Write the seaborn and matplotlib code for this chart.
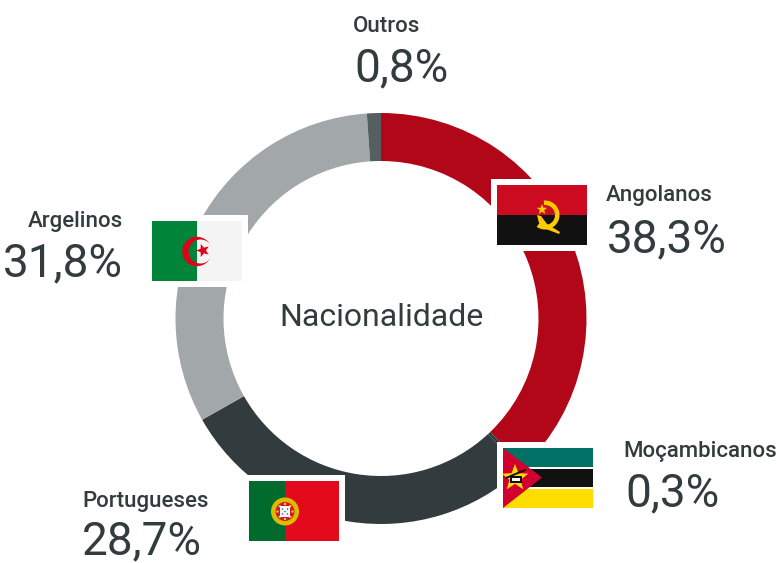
import math
import matplotlib
matplotlib.use("Agg")
import matplotlib.pyplot as plt
from matplotlib.patches import Rectangle, Polygon, Circle, Wedge
import seaborn as sns

nacionalidades = ["Angolanos", "Moçambicanos", "Portugueses", "Argelinos", "Outros"]
rotulos = ["38,3%", "0,3%", "28,7%", "31,8%", "0,8%"]
fatias = [37.8, 0.3, 28.7, 32.1, 1.1]
cores = ["#B20619", "#323B3D", "#323B3D", "#A2A7A9", "#555F61"]

sns.set_theme(style="white")
plt.rcParams["font.family"] = ["Roboto", "DejaVu Sans"]

W, H = 777, 563
TXT = "#323B3D"

fig = plt.figure(figsize=(W / 100, H / 100), dpi=100)
ax = fig.add_axes([0, 0, 1, 1])


def Y(y):
    return H - y


# Anel
ax.pie(fatias, colors=sns.color_palette(cores), startangle=90, counterclock=False,
       radius=205.5, center=(381, Y(318.5)), frame=True,
       wedgeprops={"width": 48, "linewidth": 0})
ax.set_xlim(0, W)
ax.set_ylim(0, H)
ax.set_aspect("equal")
ax.axis("off")


def retang(x0, y0, x1, y1, cor, z=3):
    ax.add_patch(Rectangle((x0, Y(y1)), x1 - x0, y1 - y0, fc=cor, ec="none", zorder=z))


def estrela(cx, cy, r, cor, z=5, rot=90):
    pts = []
    for i in range(10):
        rr = r if i % 2 == 0 else r * 0.42
        a = math.radians(rot) + i * math.pi / 5
        pts.append((cx + rr * math.cos(a), Y(cy) + rr * math.sin(a)))
    ax.add_patch(Polygon(pts, fc=cor, ec="none", zorder=z))


def disco(cx, cy, r, cor, z=5):
    ax.add_patch(Circle((cx, Y(cy)), r, fc=cor, ec="none", zorder=z))


# Bandeira de Angola
retang(491, 179, 593, 251, "white", 2)
retang(497, 185, 587, 215, "#CC0A20")
retang(497, 215, 587, 245, "#111111")
ax.add_patch(Wedge((545, Y(215)), 14.5, -125, 95, width=4.5, fc="#FFCB00", ec="none", zorder=4))
ax.add_patch(Polygon([(537, Y(215)), (541, Y(216)), (547, Y(224)), (560, Y(232)), (559, Y(234)),
                      (546, Y(229)), (539, Y(223))], fc="#FFCB00", ec="none", zorder=4))
estrela(542, 209.5, 5.5, "#FFCB00")

# Bandeira de Moçambique
retang(497, 442, 599, 514, "white", 2)
retang(503, 448, 593, 467, "#007164")
retang(503, 469, 593, 487, "#111111")
retang(503, 489, 593, 508, "#FFDD00")
ax.add_patch(Polygon([(503, Y(448)), (542, Y(477.5)), (503, Y(508))], fc="#D2002F", ec="none", zorder=4))
estrela(515, 478, 14, "#FFD900")
retang(510, 476, 522, 483, "#111111", 6)
retang(512, 478, 520, 481, "white", 7)
ax.plot([506, 525], [Y(478), Y(470)], color="#111111", lw=1.4, zorder=6)

# Bandeira de Portugal
retang(243, 475, 345, 547, "white", 2)
retang(249, 481, 285, 541, "#006B2D")
retang(285, 481, 339, 541, "#E30A1C")
disco(285, 511.5, 14, "#D9BE00", 4)
disco(285, 511.5, 9.5, "#D3172E", 5)
for i in range(8):
    a = i * math.pi / 4
    disco(285 + 7.5 * math.cos(a), 511.5 + 7.5 * math.sin(a), 1.2, "#F2D21A", 6)
retang(280, 506, 290, 517, "white", 6)
for dx, dy in [(0, 0), (-2.5, -2.5), (2.5, -2.5), (-2.5, 2.5), (2.5, 2.5)]:
    disco(285 + dx, 511.5 + dy, 0.8, "#2C5AA0", 7)

# Bandeira da Argélia
retang(146, 215, 248, 287, "white", 2)
retang(152, 221, 197, 281, "#00843A")
retang(197, 221, 242, 281, "#F4F4F4")
disco(197, 251.5, 14.7, "#E2001A", 4)
# miolo do crescente: verde à esquerda, branco à direita
for cor, x0, larg in [("#00843A", 152, 45), ("#F4F4F4", 197, 45)]:
    miolo = Circle((200.5, Y(251.5)), 12, fc=cor, ec="none", zorder=5)
    ax.add_patch(miolo)
    miolo.set_clip_path(Rectangle((x0, Y(281)), larg, 60, transform=ax.transData))
estrela(203, 250.5, 7, "#E2001A", 6, rot=180)

# Textos
ax.text(381, Y(318), "Nacionalidade", ha="center", va="center", fontsize=23, color=TXT)

etiquetas = [
    (606, 196, 607, 239, "left"),
    (623, 451, 625, 493, "left"),
    (82, 501, 82, 541, "left"),
    (123, 221, 123, 263, "right"),
    (353, 26, 354, 68, "left"),
]
for nome, rot, (xn, yn, xv, yv, al) in zip(nacionalidades, rotulos, etiquetas):
    ax.text(xn, Y(yn), nome, ha=al, va="center", fontsize=16, fontweight="medium", color=TXT)
    ax.text(xv, Y(yv), rot, ha=al, va="center", fontsize=33, color=TXT)

fig.savefig("out.png", dpi=100, facecolor="white")
